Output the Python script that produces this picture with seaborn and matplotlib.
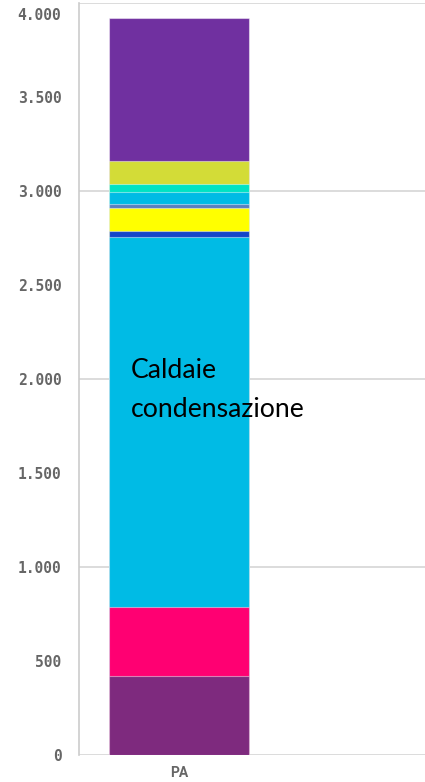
import numpy as np
import pandas as pd
import matplotlib.pyplot as plt
import matplotlib.transforms as mtransforms
from matplotlib.ticker import FuncFormatter, FixedLocator
import seaborn as sns

# Data (one stacked bar, bottom -> top)
categories = ['PA']
segment_values = [420, 367, 1970, 32, 119, 21, 67, 41, 124, 757]
segment_colors = ['#7E2A7E', '#FF0072', '#00BBE5', '#1446C8', '#FFFF00',
                  '#5B7FC0', '#00BBE5', '#00E3C3', '#D3DC37', '#7030A0']
y_ticks = [0, 500, 1000, 1500, 2000, 2500, 3000, 3500, 4000]
grid_ticks = [0, 1000, 2000, 3000, 4000]
label_text = 'Caldaie\ncondensazione'

sns.set_style('white')

fig = plt.figure(figsize=(4.25, 7.82), dpi=100)
ax = fig.add_axes([79 / 425, 1 - 755 / 782, 346 / 425, 752 / 782])

# stacked bar: draw cumulative totals from the top down
totals = np.cumsum(segment_values)
for i in range(len(segment_values) - 1, -1, -1):
    df = pd.DataFrame({'cat': categories, 'val': [totals[i]]})
    sns.barplot(data=df, x='cat', y='val', color=segment_colors[i],
                saturation=1, width=0.8, edgecolor=(1, 1, 1, 0.45),
                linewidth=0.8, ax=ax)

# label inside the big segment
ax.text(-0.275, 2112, label_text, fontsize=19.2, family='Lato', color='black',
        va='top', ha='left', linespacing=1.72, zorder=5)

# axes styling
ax.set_xlim(-0.573, 1.404)
ax.set_ylim(0, 4000)
ax.yaxis.set_major_locator(FixedLocator(y_ticks))
ax.yaxis.set_minor_locator(FixedLocator(grid_ticks))
ax.yaxis.remove_overlapping_locs = False
ax.yaxis.set_major_formatter(FuncFormatter(lambda v, p: f'{int(v):,}'.replace(',', '.')))
ax.grid(False)
ax.grid(which='minor', axis='y', color='#d9d9d9', linewidth=1.3)
ax.set_axisbelow(True)
ax.set_xlabel('')
ax.set_ylabel('')

for side in ['top', 'right', 'bottom']:
    ax.spines[side].set_visible(False)
ax.spines['left'].set_color('#cccccc')
ax.spines['left'].set_linewidth(1.2)

ax.tick_params(axis='y', which='major', length=8.6, width=1.2, color='#cccccc',
               pad=4.0, labelsize=10.5, labelcolor='#666666')
ax.tick_params(axis='y', which='minor', length=0)
ax.tick_params(axis='x', length=0, pad=8, labelsize=10, labelcolor='#666666')
for lbl in ax.get_yticklabels():
    lbl.set_family('DejaVu Sans Mono')
    lbl.set_fontweight('bold')
for lbl in ax.get_xticklabels():
    lbl.set_fontweight('bold')
    lbl.set_family('Roboto')

# top label is nudged down to stay inside the figure
fig.canvas.draw()
for tick in ax.yaxis.get_major_ticks():
    if tick.get_loc() == y_ticks[-1]:
        tick.label1.set_transform(tick.label1.get_transform()
                                  + mtransforms.ScaledTranslation(0, -11 / 100, fig.dpi_scale_trans))

fig.savefig('out.png', dpi=100)
